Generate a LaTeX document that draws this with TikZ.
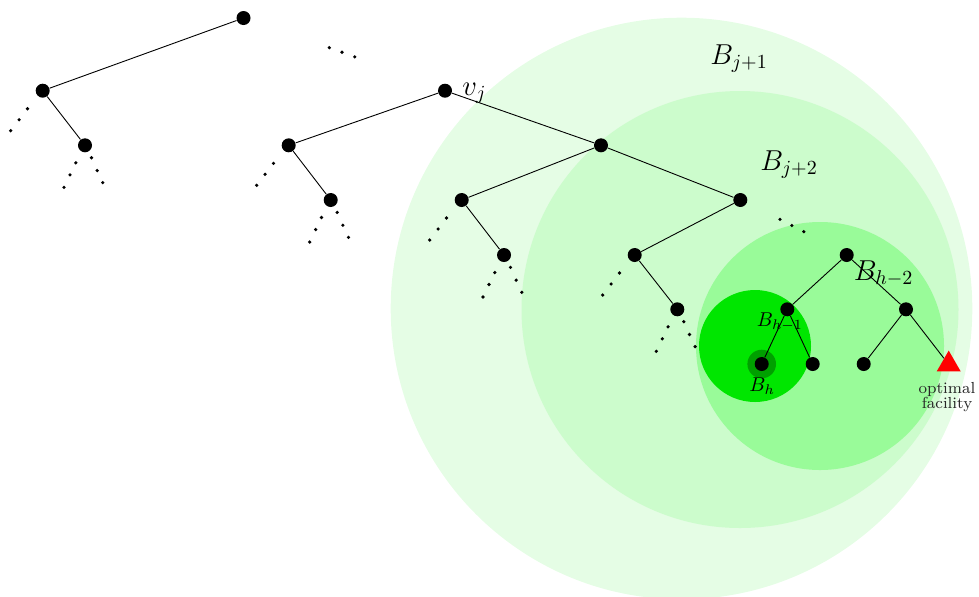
\documentclass[tikz,border=0pt]{standalone}
\usetikzlibrary{shapes.geometric,calc}
\definecolor{ballA}{RGB}{229,253,229}
\definecolor{ballB}{RGB}{204,252,204}
\definecolor{ballC}{RGB}{153,251,153}
\definecolor{ballD}{RGB}{0,230,0}
\definecolor{ballE}{RGB}{0,160,0}
\tikzset{
  tn/.style={circle,fill=black,inner sep=0pt,minimum size=7pt},
  facility/.style={regular polygon,regular polygon sides=3,fill=red,inner sep=0pt,minimum size=13.9pt},
  edge/.style={draw=black,line width=0.45pt},
  biglbl/.style={inner sep=0pt,anchor=base west,font=\Large},
  smalllbl/.style={inner sep=0pt,anchor=base west,font=\fontsize{9.6}{11}\selectfont},
}
\newcommand\contL[1]{\fill (#1) ++(-15.2,18) circle (1.8) (#1) ++(-23.6,29) circle (1.8) (#1) ++(-32,40) circle (1.8);}
\newcommand\contLR[1]{\fill (#1) ++(-9.2,17.5) circle (1.8) (#1) ++(-15,29.5) circle (1.8) (#1) ++(-21,42) circle (1.8)
  (#1) ++(6.5,12.4) circle (1.8) (#1) ++(12.2,25.2) circle (1.8) (#1) ++(17.8,37.3) circle (1.8);}
\begin{document}
\begin{tikzpicture}[x=0.5pt,y=-0.5pt]
\useasboundingbox (0,0) rectangle (979,596);
% balls
\fill[ballA] (681.5,308.5) circle (290.8);
\fill[ballB] (740,309.5) circle (218.5);
\fill[ballC] (820,346) circle (124);
\fill[ballD] (755,346) circle (56);
\fill[ballE] (761.7,364) circle (14.3);
% tree nodes
\node[tn] (root) at (243.5,18) {};
\node[tn] (A) at (42.7,90.7) {};
\node[tn] (Ac) at (85,145.3) {};
\node[tn] (vj) at (445,90.7) {};
\node[tn] (vjL) at (288.7,145.3) {};
\node[tn] (vjLL) at (330.7,200) {};
\node[tn] (vjR) at (601,145.3) {};
\node[tn] (m1) at (461.7,200) {};
\node[tn] (m1c) at (504,255) {};
\node[tn] (m2) at (740.3,200) {};
\node[tn] (m2L) at (634.7,255) {};
\node[tn] (m2Lc) at (677.3,309.3) {};
\node[tn] (n1) at (846.7,255) {};
\node[tn] (n2) at (787.3,309.3) {};
\node[tn] (n3) at (906,309.3) {};
\node[tn] (n4) at (761.7,364) {};
\node[tn] (n5) at (812.7,364) {};
\node[tn] (n6) at (863.7,364) {};
\node[facility] (fac) at (948.7,364.5) {};
% labels
\node[biglbl] (lvj) at (462,95) {$v_j$};
\node[biglbl] (lB1) at (710,64.5) {$B_{j+1}$};
\node[biglbl] (lB2) at (760,170) {$B_{j+2}$};
\node[biglbl] (lB3) at (853.5,280) {$B_{h-2}$};
\node[smalllbl] (lB4) at (756.5,326.7) {$B_{h-1}$};
\node[smalllbl] (lB5) at (749,391.7) {$B_h$};
\node[inner sep=0pt,anchor=north,align=center,font=\fontsize{8}{7.5}\selectfont,text=black!85] (lfac) at (947,382.3) {optimal\\facility};
% edges
\draw[edge] (root) -- (A);
\draw[edge] (A) -- (Ac);
\draw[edge] (vj) -- (vjL);
\draw[edge] (vjL) -- (vjLL);
\draw[edge] (vj) -- (vjR);
\draw[edge] (vjR) -- (m1);
\draw[edge] (m1) -- (m1c);
\draw[edge] (vjR) -- (m2);
\draw[edge] (m2) -- (m2L);
\draw[edge] (m2L) -- (m2Lc);
\draw[edge] (n1) -- (n2);
\draw[edge] (n1) -- (n3);
\draw[edge] (n2) -- (n4);
\draw[edge] (n2) -- (n5);
\draw[edge] (n3) -- (n6);
\draw[edge] (n3) -- (fac);
% ellipsis dots
\fill ($(root)!0.426!(vj)+(0,-1.3)$) circle (1.8)
      ($(root)!0.489!(vj)+(0,-1.3)$) circle (1.8)
      ($(root)!0.552!(vj)+(0,-1.3)$) circle (1.8);
\fill ($(m2)!0.373!(n1)+(0,-1.2)$) circle (1.8)
      ($(m2)!0.485!(n1)+(0,-1.2)$) circle (1.8)
      ($(m2)!0.597!(n1)+(0,-1.2)$) circle (1.8);
\contL{A}
\contL{vjL}
\contL{m1}
\contL{m2L}
\contLR{Ac}
\contLR{vjLL}
\contLR{m1c}
\contLR{m2Lc}
\end{tikzpicture}
\end{document}
